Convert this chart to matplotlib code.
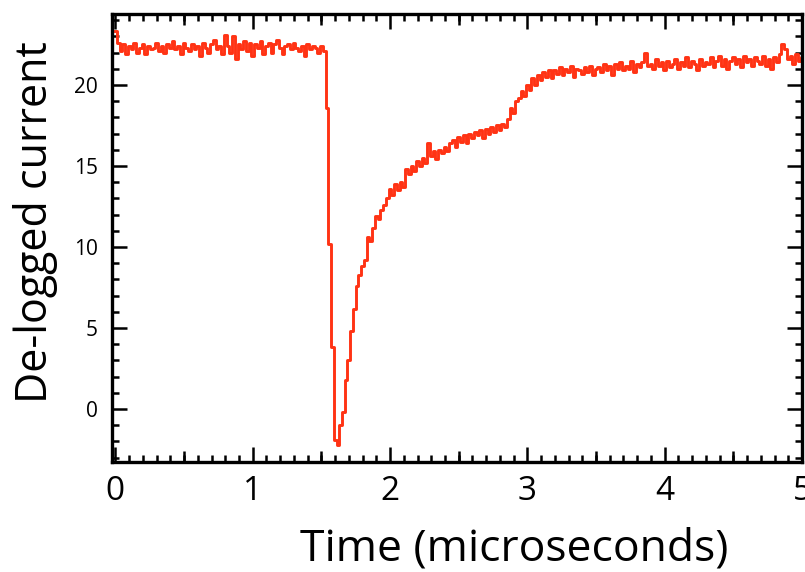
import numpy as np
import matplotlib.pyplot as plt
from matplotlib.ticker import MultipleLocator, FixedLocator

# sample spacing of the trace (microseconds)
t_step = 0.02

# de-logged current, one value per sample
baseline = [
    23.3, 22.6, 22.1, 22.5, 21.9, 22.4, 22.2, 22.6, 22.0, 22.3,
    22.5, 21.9, 22.4, 22.2, 22.3, 22.6, 22.1, 22.4, 22.0, 22.5,
    22.3, 22.7, 22.2, 22.4, 21.9, 22.6, 22.3, 22.1, 22.5, 22.2,
    22.4, 21.8, 22.6, 22.3, 22.0, 22.5, 22.8, 22.2, 22.4, 21.9,
    23.1, 22.4, 22.0, 23.0, 21.6, 22.5, 22.2, 22.7, 22.1, 22.6,
    21.8, 22.5, 22.3, 22.7, 21.9, 22.4, 22.6, 22.0, 22.5, 22.8,
    22.3, 21.9, 22.4, 22.5, 22.2, 22.6, 22.3, 22.1, 22.4, 21.8,
    22.5, 22.2, 22.4, 22.3, 22.0, 22.4, 22.1,
]
drop = [18.6, 10.2, 3.8, -1.9, -2.2, -1.0, -0.2]
recovery = [
    1.8, 3.0, 4.8, 6.2, 7.6, 8.3, 8.8, 9.2, 10.6, 10.4,
    11.2, 11.9, 11.7, 12.3, 12.6, 13.0, 13.6, 13.2, 13.9, 13.5,
    14.0, 13.7, 14.8, 14.5, 15.0, 14.7, 15.3, 15.0, 15.5, 15.2,
    16.4, 15.6, 15.9, 15.4, 16.0, 15.8, 16.2, 15.9, 16.4, 16.6,
    16.2, 16.8, 16.5, 16.9, 16.4, 17.0, 16.7, 17.1, 16.9, 17.2,
    16.7, 17.3, 17.0, 17.4, 17.1, 17.5, 17.2, 17.6, 17.4, 17.9,
    18.6, 18.3, 19.0, 19.2, 19.6, 19.3, 20.0, 19.7, 20.4, 20.0,
    20.6, 20.3, 20.8, 20.5, 20.9, 20.4, 20.9,
]
plateau = [
    20.7, 21.1, 20.6, 21.0, 20.8, 21.2, 20.5, 21.0, 20.9, 20.7,
    21.1, 20.8, 21.2, 20.6, 21.0,
    21.1, 20.8, 21.3, 20.9, 21.2, 20.6, 21.3, 21.0, 21.4, 20.9,
    21.2, 21.0, 21.5, 20.8, 21.3, 21.1, 21.4, 22.0, 21.2, 21.3,
    21.0, 21.6, 21.2, 21.4, 20.9, 21.5, 21.1, 21.3, 21.6, 21.0,
    21.4, 21.2, 21.7, 21.1, 21.5, 21.3, 20.9, 21.6, 21.2, 21.4,
    21.3, 21.7, 21.1, 21.5, 21.8, 21.2, 21.6, 21.0, 21.5, 21.7,
    21.3, 21.6, 21.1, 21.8, 21.4, 21.6, 21.2, 21.7, 21.5, 21.3,
    21.8, 21.2, 21.6, 21.0, 21.7, 21.4, 21.9, 22.5, 22.2, 21.6,
    21.8, 21.3, 21.9, 21.5, 21.7,
]

current = np.array(baseline + drop + recovery + plateau, float)
time_us = np.arange(current.size) * t_step

x_major = [0, 1, 2, 3, 4, 5]
x_mid = [0.5, 1.5, 2.5, 3.5, 4.5]
y_major = [0, 5, 10, 15, 20]

line_color = "#ff3314"
font = "Open Sans"

W, H = 805, 572
fig = plt.figure(figsize=(W / 100, H / 100), dpi=100)
ax = fig.add_axes([112 / W, 110 / H, (802 - 112) / W, (462 - 14) / H])

ax.plot(time_us, current, drawstyle="steps-mid", color=line_color, lw=2.1)

ax.set_xlim(-0.025, 5.0)
ax.set_ylim(-3.27, 24.38)

ax.xaxis.set_major_locator(FixedLocator(x_major))
ax.xaxis.set_minor_locator(MultipleLocator(0.1))
ax.yaxis.set_major_locator(FixedLocator(y_major))
ax.yaxis.set_minor_locator(MultipleLocator(1))

for s in ax.spines.values():
    s.set_linewidth(2.4)

ax.tick_params(which="both", direction="in", top=True, right=True,
               width=1.8, color="black")
ax.tick_params(which="major", length=11)
ax.tick_params(which="minor", length=5)
ax.tick_params(axis="x", which="major", labelsize=24, pad=9)
ax.tick_params(axis="y", which="major", labelsize=15, pad=10)
for lab in ax.get_xticklabels() + ax.get_yticklabels():
    lab.set_fontfamily(font)

# medium-length ticks at the half microseconds, bottom and top
for side in ("bottom", "top"):
    sec = ax.secondary_xaxis(side)
    sec.set_xticks(x_mid)
    sec.tick_params(direction="in", length=8, width=1.8,
                    labelbottom=False, labeltop=False)
    sec.spines[side].set_visible(False)

fig.text(514 / W, 1 - 549 / H, "Time (microseconds)", ha="center",
         va="center", fontsize=32, family=font)
fig.text(35 / W, 1 - 222 / H, "De-logged current", ha="center",
         va="center", rotation=90, fontsize=31, family=font)

fig.savefig("out.png", dpi=100)
